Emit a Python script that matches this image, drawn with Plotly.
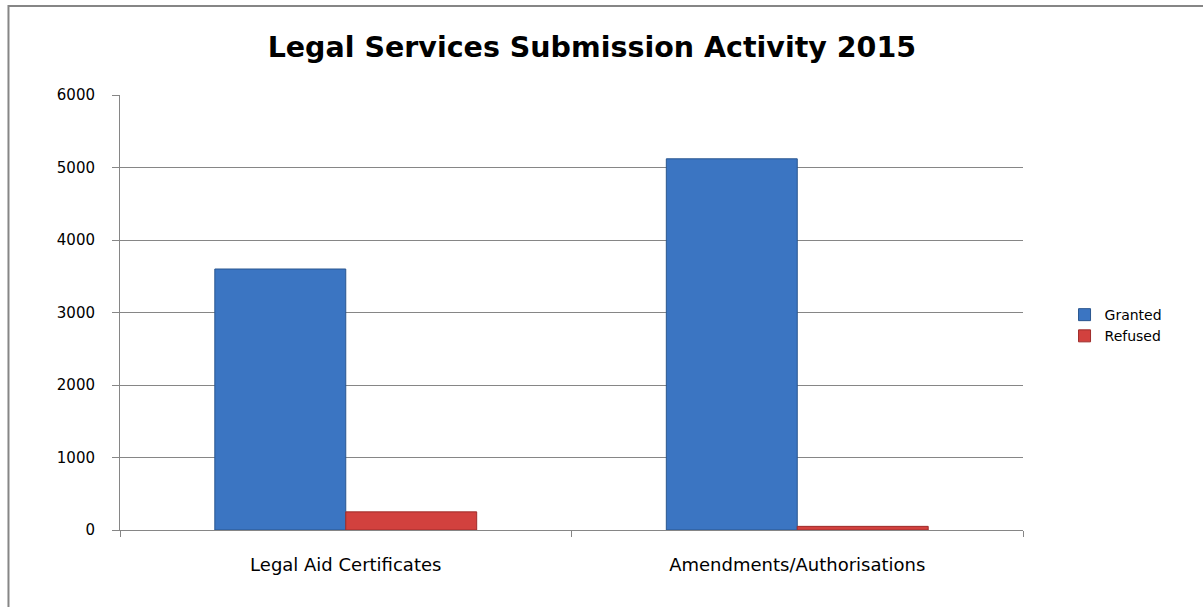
import plotly.graph_objects as go

categories = ["Legal Aid Certificates", "Amendments/Authorisations"]
granted = [3600, 5120]
refused = [250, 50]
y_ticks = [0, 1000, 2000, 3000, 4000, 5000, 6000]

fig = go.Figure()
fig.add_trace(go.Bar(
    name="Granted", x=categories, y=granted,
    marker=dict(color="#3b75c2", line=dict(color="#2a568f", width=1)),
))
fig.add_trace(go.Bar(
    name="Refused", x=categories, y=refused,
    marker=dict(color="#d2413e", line=dict(color="#9e2c2a", width=1)),
))

font_family = "DejaVu Sans, Open Sans, sans-serif"

fig.update_layout(
    width=1203, height=607,
    margin=dict(l=120, r=180, t=95, b=77),
    paper_bgcolor="white", plot_bgcolor="white",
    barmode="group", bargap=0.42, bargroupgap=0,
    title=dict(
        text="<b>Legal Services Submission Activity 2015</b>",
        font=dict(family="DejaVu Sans, Arial, sans-serif", size=28.5, color="#000000"),
        x=0.492, xanchor="center", xref="container",
        y=0.922, yanchor="middle", yref="container",
    ),
    showlegend=True,
    legend=dict(
        x=1.046, y=0.47, xanchor="left", yanchor="middle",
        font=dict(family=font_family, size=14, color="#000000"),
        bgcolor="rgba(0,0,0,0)", itemwidth=30,
    ),
    xaxis=dict(
        type="category", showgrid=False,
        showline=True, linecolor="#868686", linewidth=1,
        ticks="outside", tickson="boundaries", ticklen=6, tickcolor="#868686",
        tickfont=dict(family=font_family, size=18, color="#000000"),
        ticklabelstandoff=18,
    ),
    yaxis=dict(
        range=[0, 6000], tickvals=y_ticks,
        showgrid=True, gridcolor="#868686", gridwidth=1,
        showline=True, linecolor="#868686", linewidth=1,
        ticks="outside", ticklen=7, tickcolor="#868686",
        tickfont=dict(family=font_family, size=15, color="#000000"),
        zeroline=False, ticklabelstandoff=14,
    ),
    shapes=[dict(
        type="rect", xref="paper", yref="paper",
        x0=-0.1235, x1=1.25, y0=-0.25, y1=1.2046,
        line=dict(color="#868686", width=2), fillcolor="rgba(0,0,0,0)",
        layer="below",
    )],
)

fig.write_html("out.html")
